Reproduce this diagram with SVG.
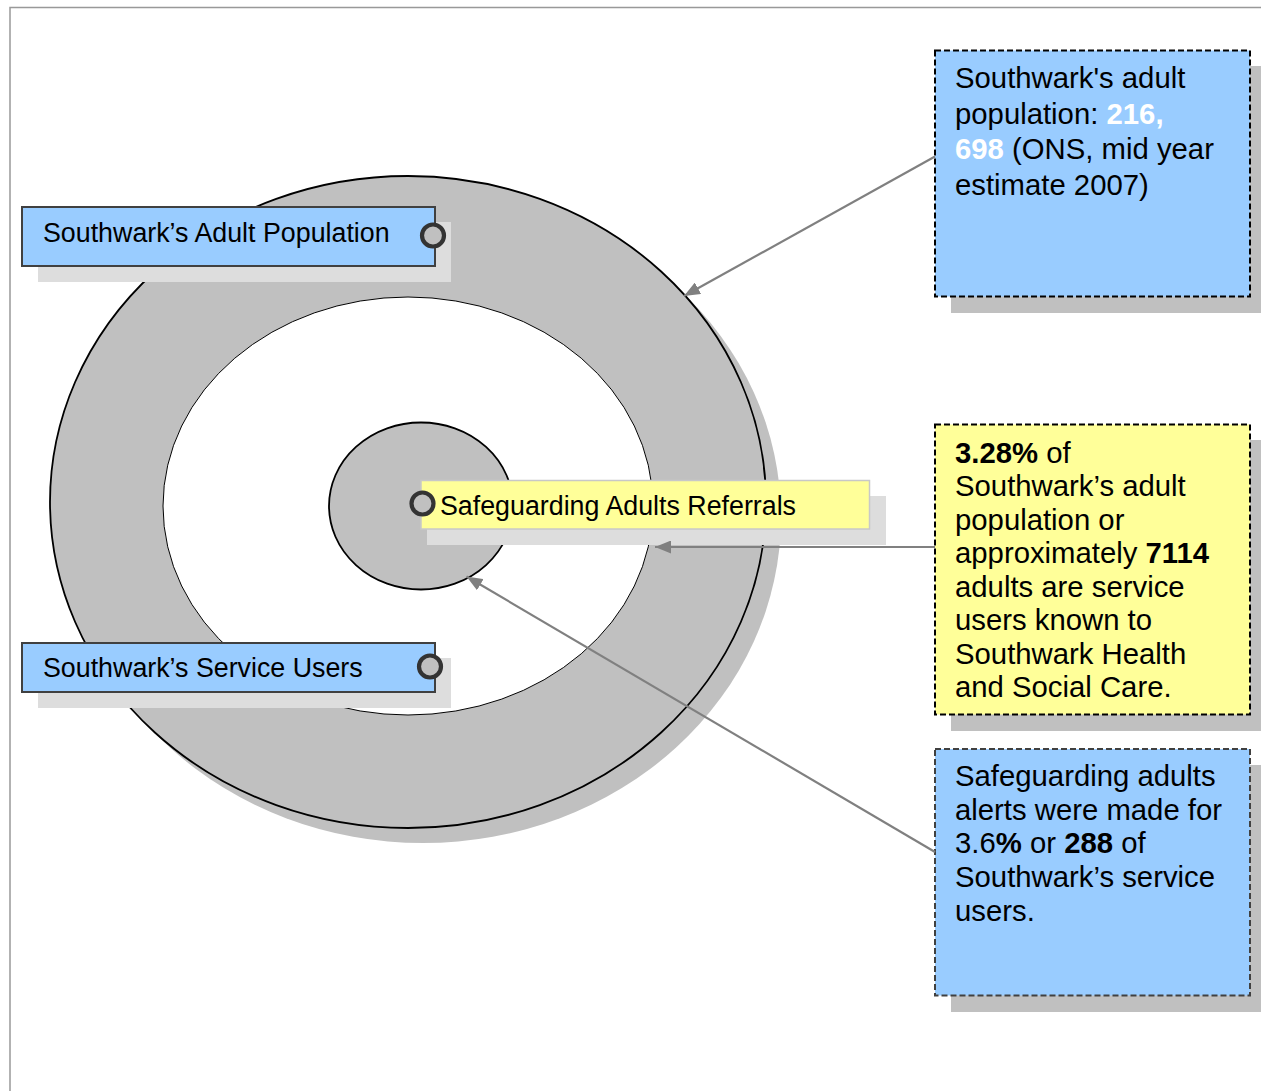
<svg xmlns="http://www.w3.org/2000/svg" width="1261" height="1091" viewBox="0 0 1261 1091">
<defs>
<style>
text{font-family:"Liberation Sans",Arial,sans-serif;fill:#000}
.lbl{font-size:26.8px}
.note{font-size:29.3px}
.b{font-weight:bold}
.w{fill:#fff;font-weight:bold}
.lab{fill:#99ccff;stroke:#404040;stroke-width:2}
.lsh{fill:#dddddd}
.bsh{fill:#c0c0c0}
.mk{fill:#c0c0c0;stroke:#333;stroke-width:4.2}
.conn{stroke:#808080;stroke-width:2.2;fill:none;marker-end:url(#ah)}
</style>
<marker id="ah" markerUnits="userSpaceOnUse" markerWidth="17" markerHeight="13" refX="16" refY="6.5" orient="auto">
<path d="M0,0 L16,6.5 L0,13 z" fill="#808080"/>
</marker>
</defs>
<rect width="1261" height="1091" fill="#fff"/>
<path d="M10,1091 V7.5 H1261" fill="none" stroke="#999" stroke-width="1.5"/>

<g id="rings">
<ellipse cx="423" cy="517" rx="358" ry="326" fill="#c0c0c0"/>
<ellipse cx="408" cy="502" rx="358" ry="326" fill="#c0c0c0" stroke="#000" stroke-width="1.8"/>
<ellipse cx="408" cy="506" rx="245" ry="209" fill="#fff" stroke="#000" stroke-width="1"/>
<ellipse cx="421" cy="506" rx="92" ry="83.5" fill="#c0c0c0" stroke="#000" stroke-width="1.8"/>
</g>

<g id="label-adult-population">
<rect class="lsh" x="38" y="222" width="413" height="60"/>
<rect class="lab" x="22" y="207" width="413" height="59"/>
<text class="lbl" x="43" y="242">Southwark’s Adult Population</text>
<circle class="mk" cx="433" cy="235.5" r="11"/>
</g>

<g id="label-service-users">
<rect class="lsh" x="38" y="658" width="413" height="50"/>
<rect class="lab" x="22" y="643" width="413" height="49"/>
<text class="lbl" x="43" y="677">Southwark’s Service Users</text>
<circle class="mk" cx="430" cy="666.5" r="11"/>
</g>

<g id="label-referrals">
<rect class="lsh" x="427" y="496" width="459" height="49"/>
<rect x="421" y="480.5" width="448.5" height="48.5" fill="#ffff99" stroke="#c8c8c8" stroke-width="1.5"/>
<text class="lbl" x="440" y="515">Safeguarding Adults Referrals</text>
<circle class="mk" cx="422.5" cy="503.5" r="11"/>
</g>

<g id="note-population">
<rect class="bsh" x="951" y="66" width="315" height="247"/>
<rect x="935" y="50.5" width="315" height="246" fill="#99ccff" stroke="#000" stroke-width="2" stroke-dasharray="6 3"/>
<text class="note" x="955" y="88">Southwark's adult</text>
<text class="note" x="955" y="124">population: <tspan class="w">216,</tspan></text>
<text class="note" x="955" y="159"><tspan class="w">698</tspan> (ONS, mid year</text>
<text class="note" x="955" y="195">estimate 2007)</text>
</g>

<g id="note-service-users">
<rect class="bsh" x="951" y="440" width="315" height="291"/>
<rect x="935" y="424.5" width="315" height="290" fill="#ffff99" stroke="#000" stroke-width="2" stroke-dasharray="6 3"/>
<text class="note" x="955" y="463"><tspan class="b">3.28%</tspan> of</text>
<text class="note" x="955" y="496.4">Southwark’s adult</text>
<text class="note" x="955" y="529.9">population or</text>
<text class="note" x="955" y="563.3">approximately <tspan class="b">7114</tspan></text>
<text class="note" x="955" y="596.7">adults are service</text>
<text class="note" x="955" y="630.1">users known to</text>
<text class="note" x="955" y="663.6">Southwark Health</text>
<text class="note" x="955" y="697">and Social Care.</text>
</g>

<g id="note-alerts">
<rect class="bsh" x="951" y="765" width="315" height="247"/>
<rect x="935" y="749" width="315" height="246.5" fill="#99ccff" stroke="#404040" stroke-width="2" stroke-dasharray="6 3"/>
<text class="note" x="955" y="786">Safeguarding adults</text>
<text class="note" x="955" y="819.7">alerts were made for</text>
<text class="note" x="955" y="853.4">3.6<tspan class="b">%</tspan> or <tspan class="b">288</tspan> of</text>
<text class="note" x="955" y="887.1">Southwark’s service</text>
<text class="note" x="955" y="920.8">users.</text>
</g>

<g id="connectors">
<line class="conn" x1="935" y1="156.5" x2="684" y2="296"/>
<line class="conn" x1="935" y1="547" x2="655" y2="547"/>
<line class="conn" x1="935" y1="852" x2="466.5" y2="576.5"/>
</g>
</svg>
